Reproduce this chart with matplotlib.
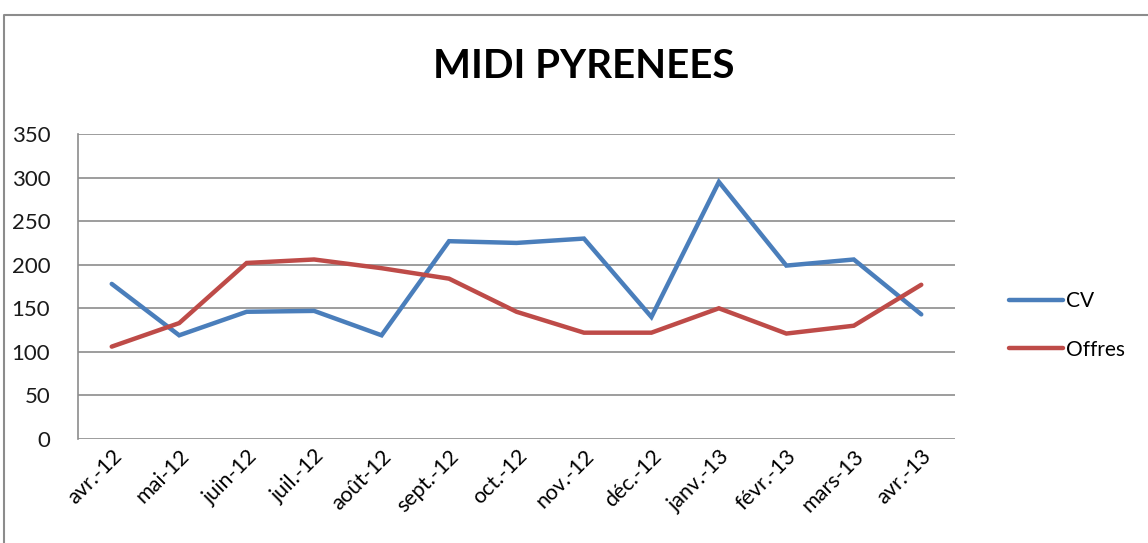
import matplotlib
matplotlib.use("Agg")
import matplotlib.pyplot as plt
from matplotlib.lines import Line2D

plt.rcParams['font.family'] = ['Lato', 'DejaVu Sans']

months = ["avr.-12", "mai-12", "juin-12", "juil.-12", "août-12", "sept.-12", "oct.-12",
          "nov.-12", "déc.-12", "janv.-13", "févr.-13", "mars-13", "avr.-13"]
cv = [178, 119, 146, 147, 119, 227, 225, 230, 140, 295, 199, 206, 143]
offres = [106, 133, 202, 206, 196, 184, 146, 122, 122, 150, 121, 130, 177]
yticks = [0, 50, 100, 150, 200, 250, 300, 350]

W, H = 1148, 543
fig = plt.figure(figsize=(W / 100, H / 100), dpi=100)
ax = fig.add_axes([78 / W, 1 - 439 / H, (955 - 78) / W, (439 - 134) / H])

x = list(range(len(months)))
ax.plot(x, cv, color="#4A7EBB", lw=3.2, label="CV", solid_capstyle="round", solid_joinstyle="miter")
ax.plot(x, offres, color="#BE4B48", lw=3.2, label="Offres", solid_capstyle="round", solid_joinstyle="miter")

ax.set_xlim(-0.5, len(months) - 0.5)
ax.set_ylim(0, 350)
ax.set_yticks(yticks)
ax.set_xticks(x)
ax.set_xticklabels(months, rotation=45, ha="right", va="top", rotation_mode="anchor", fontsize=15.5)
ax.tick_params(axis="y", length=0, pad=20, labelsize=16)
ax.tick_params(axis="x", length=0, pad=5)
for lab in ax.get_yticklabels():
    lab.set_color("#1a1a1a")
ax.grid(axis="y", color="#8c8c8c", lw=1.2)
ax.set_axisbelow(True)
for s in ["top", "right", "bottom"]:
    ax.spines[s].set_visible(False)
ax.spines["left"].set_color("#8c8c8c")
ax.spines["left"].set_linewidth(1.2)

fig.text(584 / W, 1 - 67 / H, "MIDI PYRENEES", ha="center", va="center",
         fontsize=29, fontweight="bold", color="black")

leg = ax.legend(loc="center left", bbox_to_anchor=(1.04, 0.372), frameon=False,
                fontsize=15, handlelength=2.6, handletextpad=0.15, labelspacing=1.35)

# outer chart frame
fig.add_artist(Line2D([4 / W, 4 / W, 1.0], [0, 1 - 15 / H, 1 - 15 / H],
                      transform=fig.transFigure, color="#8c8c8c", lw=1.5))

fig.savefig("out.png", dpi=100, facecolor="white")
